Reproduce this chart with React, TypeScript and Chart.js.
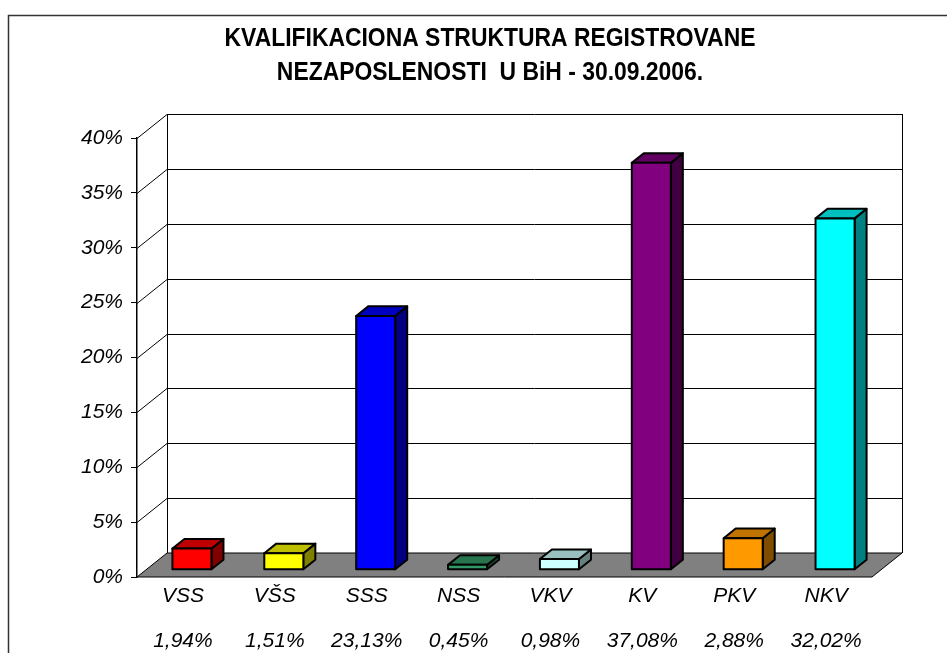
import React, { useEffect, useRef } from "react";
import { Chart, registerables } from "chart.js";

Chart.register(...registerables);

const titleLines = [
  "KVALIFIKACIONA STRUKTURA REGISTROVANE",
  "NEZAPOSLENOSTI  U BiH - 30.09.2006.",
];
const categories = ["VSS", "VŠS", "SSS", "NSS", "VKV", "KV", "PKV", "NKV"];
const values = [1.94, 1.51, 23.13, 0.45, 0.98, 37.08, 2.88, 32.02];
const valueLabels = ["1,94%", "1,51%", "23,13%", "0,45%", "0,98%", "37,08%", "2,88%", "32,02%"];
const frontColors = ["#FF0000", "#FFFF00", "#0000FF", "#339966", "#CCFFFF", "#800080", "#FF9900", "#00FFFF"];
const yMin = 0;
const yMax = 40;
const yStep = 5;

const DX = 30;
const DY = -24;
const F1 = 0.3;
const F2 = 0.7;

function shade(hex: string, f: number) {
  const n = parseInt(hex.slice(1), 16);
  const r = Math.round(((n >> 16) & 255) * f);
  const g = Math.round(((n >> 8) & 255) * f);
  const b = Math.round((n & 255) * f);
  return `rgb(${r},${g},${b})`;
}

function poly(ctx: CanvasRenderingContext2D, pts: number[][], fill: string | null, stroke: string | null, lw = 1) {
  ctx.beginPath();
  ctx.moveTo(pts[0][0], pts[0][1]);
  for (let i = 1; i < pts.length; i++) ctx.lineTo(pts[i][0], pts[i][1]);
  ctx.closePath();
  if (fill) {
    ctx.fillStyle = fill;
    ctx.fill();
  }
  if (stroke) {
    ctx.strokeStyle = stroke;
    ctx.lineWidth = lw;
    ctx.lineJoin = "round";
    ctx.stroke();
  }
}

const excel3d = {
  id: "excel3d",
  beforeDraw(chart: any) {
    const ctx = chart.ctx as CanvasRenderingContext2D;
    ctx.save();
    ctx.fillStyle = "#fff";
    ctx.fillRect(0, 0, chart.width, chart.height);
    ctx.strokeStyle = "#333";
    ctx.lineWidth = 1.5;
    ctx.strokeRect(8.5, 15.5, chart.width + 20, chart.height + 20);
    // title
    ctx.fillStyle = "#000";
    ctx.font = 'bold 25px "Liberation Sans", Arial, sans-serif';
    ctx.textAlign = "center";
    ctx.textBaseline = "alphabetic";
    const baselines = [45.5, 80];
    titleLines.forEach((t, i) => {
      ctx.save();
      ctx.translate(490, baselines[i]);
      ctx.scale(0.916, 1);
      ctx.fillText(t, 0, 0);
      ctx.restore();
    });
    ctx.restore();
  },
  beforeDatasetsDraw(chart: any) {
    const ctx = chart.ctx as CanvasRenderingContext2D;
    const ys = chart.scales.y;
    const { left, right } = chart.chartArea;
    const y0 = ys.getPixelForValue(yMin);
    const yTop = ys.getPixelForValue(yMax);
    ctx.save();
    // floor
    poly(
      ctx,
      [
        [left, y0],
        [right, y0],
        [right + DX, y0 + DY],
        [left + DX, y0 + DY],
      ],
      "#808080",
      "#000",
      1
    );
    ctx.strokeStyle = "#000";
    ctx.lineWidth = 1;
    ctx.beginPath();
    for (let v = yMin + yStep; v <= yMax; v += yStep) {
      const py = Math.round(ys.getPixelForValue(v)) + 0.5;
      // side wall diagonal
      ctx.moveTo(left, py);
      ctx.lineTo(left + DX, py + DY);
      // back wall line
      ctx.moveTo(left + DX, py + DY);
      ctx.lineTo(right + DX, py + DY);
    }
    // back wall verticals
    ctx.moveTo(Math.round(left + DX) + 0.5, yTop + DY);
    ctx.lineTo(Math.round(left + DX) + 0.5, y0 + DY);
    ctx.moveTo(Math.round(right + DX) + 0.5, yTop + DY);
    ctx.lineTo(Math.round(right + DX) + 0.5, y0 + DY);
    ctx.stroke();
    ctx.restore();
  },
  afterDatasetsDraw(chart: any) {
    const ctx = chart.ctx as CanvasRenderingContext2D;
    const meta = chart.getDatasetMeta(0);
    ctx.save();
    meta.data.forEach((el: any, i: number) => {
      const { x, y, base, width } = el.getProps(["x", "y", "base", "width"], true);
      const col = frontColors[i];
      const x0 = x - width / 2 + DX * F1;
      const x1 = x + width / 2 + DX * F1;
      const yt = y + DY * F1;
      const yb = base + DY * F1;
      const ddx = DX * (F2 - F1);
      const ddy = DY * (F2 - F1);
      poly(
        ctx,
        [
          [x1, yt],
          [x1 + ddx, yt + ddy],
          [x1 + ddx, yb + ddy],
          [x1, yb],
        ],
        shade(col, 0.5),
        "#000",
        2
      );
      poly(
        ctx,
        [
          [x0, yt],
          [x1, yt],
          [x1 + ddx, yt + ddy],
          [x0 + ddx, yt + ddy],
        ],
        shade(col, 0.75),
        "#000",
        2
      );
      poly(
        ctx,
        [
          [x0, yt],
          [x1, yt],
          [x1, yb],
          [x0, yb],
        ],
        col,
        "#000",
        2
      );
    });
    ctx.restore();
  },
};

export default function App() {
  const ref = useRef<HTMLCanvasElement | null>(null);
  useEffect(() => {
    if (!ref.current) return;
    const chart = new Chart(ref.current, {
      type: "bar",
      data: {
        labels: categories.map((c, i) => [c, valueLabels[i]]),
        datasets: [
          {
            data: values,
            backgroundColor: "rgba(0,0,0,0)",
            borderWidth: 0,
            categoryPercentage: 1,
            barPercentage: 0.425,
          },
        ],
      },
      options: {
        animation: false,
        responsive: true,
        maintainAspectRatio: false,
        layout: { padding: { top: 138, right: 75, bottom: 0, left: 0 } },
        plugins: {
          legend: { display: false },
          tooltip: { enabled: false },
          title: { display: false },
        },
        scales: {
          x: {
            grid: { display: false, drawTicks: false },
            border: { display: false },
            ticks: {
              color: "#000",
              padding: -3.5,
              maxRotation: 0,
              autoSkip: false,
              font: { family: '"Liberation Sans", Arial, sans-serif', size: 21, style: "italic", lineHeight: 45 / 21 },
            },
            afterFit: (s: any) => {
              s.height = 76;
            },
          },
          y: {
            min: yMin,
            max: yMax,
            grid: { drawOnChartArea: false, tickLength: 6, tickColor: "#000" },
            border: { display: true, color: "#000", width: 1.5 },
            ticks: {
              stepSize: yStep,
              color: "#000",
              padding: 8,
              callback: (v: any) => `${v}%`,
              font: { family: '"Liberation Sans", Arial, sans-serif', size: 21, style: "italic" },
            },
            afterFit: (s: any) => {
              s.width = 137;
            },
          },
        },
      },
      plugins: [excel3d],
    });
    return () => chart.destroy();
  }, []);
  return (
    <div style={{ position: "fixed", left: 0, top: 0, width: 947, height: 653, background: "#fff" }}>
      <canvas ref={ref} />
    </div>
  );
}
